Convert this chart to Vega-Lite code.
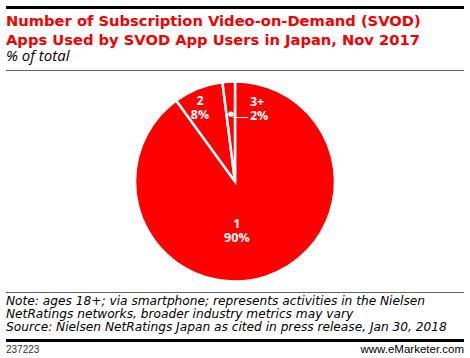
{
  "$schema": "https://vega.github.io/schema/vega-lite/v6.json",
  "padding": {"left": 6, "right": 6, "top": 6, "bottom": 0},
  "background": "white",
  "spacing": 5,
  "config": {"view": {"stroke": null}, "font": "Open Sans"},
  "vconcat": [
    {
      "spacing": 0,
      "hconcat": [
        {
          "width": 458, "height": 3,
          "data": {"values": [{"rule": "top"}]},
          "mark": {"type": "rect", "fill": "#000000"},
          "title": {
            "text": ["Number of Subscription Video-on-Demand (SVOD)", "Apps Used by SVOD App Users in Japan, Nov 2017"],
            "subtitle": "% of total",
            "orient": "bottom",
            "anchor": "start",
            "font": "DejaVu Sans",
            "fontSize": 14.7,
            "fontWeight": "bold",
            "color": "#f50000",
            "lineHeight": 18.5,
            "subtitleFont": "Open Sans",
            "subtitleFontSize": 15,
            "subtitleFontStyle": "italic",
            "subtitleColor": "#000000",
            "subtitlePadding": 2,
            "offset": 5
          }
        }
      ]
    },
    {
      "width": 458, "height": 1,
      "data": {"values": [{"rule": "header"}]},
      "mark": {"type": "rect", "fill": "#666666"}
    },
    {
      "width": 458, "height": 207,
      "data": {"values": [
        {"apps": "1", "pct": 90},
        {"apps": "2", "pct": 8},
        {"apps": "3+", "pct": 2}
      ]},
      "transform": [{"calculate": "datum.apps + '\\n' + datum.pct + '%'", "as": "label"}],
      "encoding": {
        "theta": {"field": "pct", "type": "quantitative", "stack": true},
        "order": {"field": "apps", "type": "ordinal", "sort": "ascending"}
      },
      "layer": [
        {"mark": {"type": "arc", "outerRadius": 100, "fill": "#ff0000", "stroke": "white", "strokeWidth": 2.5}},
        {
          "mark": {"type": "text", "radius": 45, "dx": -12, "fill": "white", "font": "Open Sans", "fontWeight": "bold", "fontSize": 12.5, "lineBreak": "\n", "lineHeight": 14, "align": "center", "baseline": "middle"},
          "encoding": {"text": {"condition": {"test": "datum.apps === '1'", "field": "label"}, "value": ""}}
        },
        {
          "mark": {"type": "text", "radius": 84, "dx": -4, "dy": -2, "fill": "white", "font": "Open Sans", "fontWeight": "bold", "fontSize": 12.5, "lineBreak": "\n", "lineHeight": 14, "align": "center", "baseline": "middle"},
          "encoding": {"text": {"condition": {"test": "datum.apps === '2'", "field": "label"}, "value": ""}}
        },
        {
          "mark": {"type": "text", "radius": 65, "dy": -2, "fill": "white", "font": "Liberation Sans", "fontSize": 20, "align": "center", "baseline": "middle"},
          "encoding": {"text": {"condition": {"test": "datum.apps === '3+'", "value": "•"}, "value": ""}}
        },
        {
          "mark": {"type": "text", "radius": 65, "dy": -1, "fill": "white", "font": "Liberation Sans", "fontSize": 15, "align": "left", "baseline": "middle", "dx": 2},
          "encoding": {"text": {"condition": {"test": "datum.apps === '3+'", "value": "—"}, "value": ""}}
        },
        {
          "mark": {"type": "text", "radius": 65, "fill": "white", "font": "Open Sans", "fontWeight": "bold", "fontSize": 12.5, "lineBreak": "\n", "lineHeight": 14, "align": "left", "baseline": "middle", "dx": 19, "dy": -15},
          "encoding": {"text": {"condition": {"test": "datum.apps === '3+'", "field": "label"}, "value": ""}}
        }
      ]
    },
    {
      "width": 458, "height": 1,
      "data": {"values": [{"rule": "notes"}]},
      "mark": {"type": "rect", "fill": "#666666"},
      "title": {
        "text": ["Note: ages 18+; via smartphone; represents activities in the Nielsen", "NetRatings networks, broader industry metrics may vary", "Source: Nielsen NetRatings Japan as cited in press release, Jan 30, 2018"],
        "orient": "bottom",
        "anchor": "start",
        "font": "DejaVu Sans",
        "fontSize": 12.2,
        "fontWeight": "normal",
        "fontStyle": "italic",
        "color": "#000000",
        "lineHeight": 13,
        "offset": 2
      }
    },
    {
      "spacing": 0,
      "hconcat": [
        {
          "width": 229, "height": 3,
          "data": {"values": [{"rule": "footer"}]},
          "mark": {"type": "rect", "fill": "#000000"},
          "title": {"text": "237223", "orient": "bottom", "anchor": "start", "font": "Liberation Sans", "fontSize": 10, "fontWeight": "normal", "color": "#333333", "offset": 3}
        },
        {
          "width": 229, "height": 3,
          "data": {"values": [{"rule": "footer"}]},
          "mark": {"type": "rect", "fill": "#000000"},
          "title": {"text": "www.eMarketer.com", "orient": "bottom", "anchor": "end", "font": "Liberation Sans", "fontSize": 11.5, "fontWeight": "normal", "color": "#000000", "offset": 2}
        }
      ]
    }
  ]
}
